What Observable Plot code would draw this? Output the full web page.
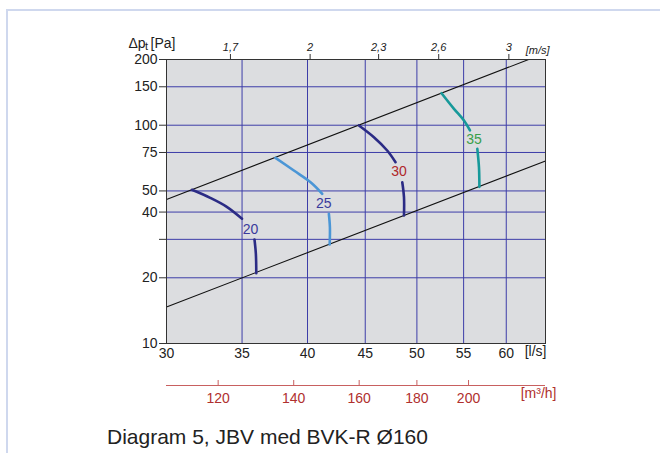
<!DOCTYPE html>
<html>
<head>
<meta charset="utf-8">
<script src="https://cdn.jsdelivr.net/npm/d3@7"></script>
<script src="https://cdn.jsdelivr.net/npm/@observablehq/plot@0.6"></script>
<style>
  html, body { margin: 0; padding: 0; background: #fff; }
  #page { position: relative; width: 660px; height: 453px; overflow: hidden; font-family: "Liberation Sans", Arial, sans-serif; }
  #border { position: absolute; left: 6px; top: 9px; width: 700px; height: 500px; border-top: 2.5px solid #cfd8ee; border-left: 2.5px solid #cfd8ee; box-sizing: border-box; }
  #main { position: absolute; left: 0; top: 0; }
  #second { position: absolute; left: 0; top: 368px; }
  #caption { position: absolute; left: 107px; top: 425px; font-size: 21px; line-height: 24px; color: #222; white-space: nowrap; }
</style>
</head>
<body>
<div id="page">
  <div id="border"></div>
  <div id="main"></div>
  <div id="second"></div>
  <div id="caption">Diagram 5, JBV med BVK-R Ø160</div>
</div>
<script>
// ---- Data ----
const flowTicks = [30, 35, 40, 45, 50, 55, 60];            // l/s
const gridFlow = [35, 40, 45, 50, 55, 60];
const pressureTicks = [10, 20, 30, 40, 50, 75, 100, 150, 200]; // Pa
const gridPressure = [20, 30, 40, 50, 75, 100, 150];
const pressureLabels = ["10", "20", "", "40", "50", "75", "100", "150", "200"];
const velocityTicks = [1.7, 2, 2.3, 2.6, 3];                // m/s
const velocityLabels = ["1,7", "2", "2,3", "2,6", "3"];
const airflowTicks = [120, 140, 160, 180, 200];             // m³/h
const ductDiameter = 0.16;                                  // m

// limit lines (l/s, Pa)
const upperLimit = [{q: 30, p: 45.7}, {q: 62.8, p: 200}];
const lowerLimit = [{q: 30, p: 14.7}, {q: 65, p: 68.6}];

// setting curves, upper and lower parts (l/s, Pa)
const curve20Upper = [[31.6, 50.6], [32.8, 46.5], [33.9, 42.4], [35.0, 37.3]];
const curve20Lower = [[35.9, 29.9], [36.0, 25.7], [36.03, 21.0]];
const curve25Upper = [[37.47, 70.9], [38.9, 62.0], [40.25, 54.8], [41.22, 48.5]];
const curve25Lower = [[41.78, 39.3], [41.87, 34.1], [41.85, 28.4]];
const curve30Upper = [[44.42, 99.7], [45.8, 88.1], [47.06, 76.6], [47.87, 67.7]];
const curve30Lower = [[48.53, 54.8], [48.7, 46.8], [48.7, 38.6]];
const curve35Upper = [[52.58, 140.2], [53.93, 118.9], [55.04, 105.1], [55.72, 94.6]];
const curve35Lower = [[56.56, 78.0], [56.75, 64.2], [56.8, 52.2]];

const curveLabels = ["20", "25", "30", "35"];
const labelFlow = [35.61, 41.35, 48.2, 56.17];
const labelPressure = [33.3, 43.6, 61.4, 85.7];
const labelColors = ["#3a3a9c", "#3a3a9c", "#b0282a", "#3aa04a"];

// ---- Derived ----
const ductArea = Math.PI * (ductDiameter / 2) ** 2;
const velocityAsFlow = velocityTicks.map(v => v * ductArea * 1000);
const labelRows = curveLabels.map((t, i) => ({t, q: labelFlow[i], p: labelPressure[i], c: labelColors[i]}));

const navy = "#2b2b85", light = "#4b96d6", teal = "#17999a";
const gridColor = "#3d3da8";
const red = "#b0302e";
const font = "Liberation Sans, Arial, sans-serif";

function curve(data, color) {
  return Plot.line(data, {x: d => d[0], y: d => d[1], stroke: color, strokeWidth: 2.6, curve: "catmull-rom"});
}

const main = Plot.plot({
  width: 660, height: 368,
  marginLeft: 166, marginRight: 115, marginTop: 59, marginBottom: 25,
  x: {type: "log", domain: [30, 65]},
  y: {type: "log", domain: [10, 200]},
  style: {fontFamily: font, fontSize: "14px", color: "#222", background: "transparent", overflow: "visible"},
  marks: [
    Plot.frame({fill: "#dcdde0"}),
    Plot.ruleX(gridFlow, {stroke: gridColor, strokeWidth: 1}),
    Plot.ruleY(gridPressure, {stroke: gridColor, strokeWidth: 1}),
    Plot.line(upperLimit, {x: "q", y: "p", stroke: "#111", strokeWidth: 1.1}),
    Plot.line(lowerLimit, {x: "q", y: "p", stroke: "#111", strokeWidth: 1.1}),
    curve(curve20Upper, navy), curve(curve20Lower, navy),
    curve(curve25Upper, light), curve(curve25Lower, light),
    curve(curve30Upper, navy), curve(curve30Lower, navy),
    curve(curve35Upper, teal), curve(curve35Lower, teal),
    Plot.text(labelRows, {x: "q", y: "p", text: "t", fill: "c", fontSize: 14}),
    Plot.frame({stroke: "#333", strokeWidth: 1}),
    Plot.axisY({ticks: pressureTicks, tickFormat: d => pressureLabels[pressureTicks.indexOf(d)], tickSize: 7, tickPadding: 2, label: null, stroke: "#333", fontSize: 14}),
    Plot.axisX({anchor: "bottom", ticks: flowTicks, tickFormat: d => String(d), tickSize: 0, tickPadding: 5, label: null, fontSize: 14}),
    Plot.axisX({anchor: "top", ticks: velocityAsFlow, tickFormat: d => velocityLabels[velocityAsFlow.indexOf(d)], tickSize: 6, tickPadding: 3, label: null, fontStyle: "italic", fontSize: 11, stroke: "#333"}),
    Plot.text(["[l/s]"], {frameAnchor: "bottom-right", dx: 1, dy: 12, fontSize: 14}),
    Plot.text(["[m/s]"], {frameAnchor: "top-right", dx: 4, dy: -13, fontSize: 11, fontStyle: "italic"}),
    Plot.text(["Δp"], {frameAnchor: "top-left", dx: -38, dy: -21, textAnchor: "start", fontSize: 14}),
    Plot.text(["t"], {frameAnchor: "top-left", dx: -21.5, dy: -17, textAnchor: "start", fontSize: 11}),
    Plot.text(["[Pa]"], {frameAnchor: "top-left", dx: -16, dy: -21, textAnchor: "start", fontSize: 14})
  ]
});
document.getElementById("main").append(main);

const second = Plot.plot({
  width: 660, height: 50,
  marginLeft: 166, marginRight: 115, marginTop: 12, marginBottom: 33,
  x: {type: "log", domain: [30, 65], axis: null},
  y: {domain: [0, 1], axis: null},
  style: {fontFamily: font, fontSize: "14px", background: "transparent", overflow: "visible"},
  marks: [
    Plot.ruleY([0], {stroke: "#c86060", strokeWidth: 1}),
    Plot.ruleX(airflowTicks, {x: d => d / 3.6, y1: 0, y2: 1, stroke: "#c86060"}),
    Plot.text(airflowTicks, {x: d => d / 3.6, y: 0, dy: 13, text: d => String(d), fill: red, fontSize: 14}),
    Plot.text(["[m³/h]"], {frameAnchor: "bottom-right", dx: 11, dy: 12, textAnchor: "end", fill: red, fontSize: 14})
  ]
});
document.getElementById("second").append(second);
</script>
</body>
</html>
